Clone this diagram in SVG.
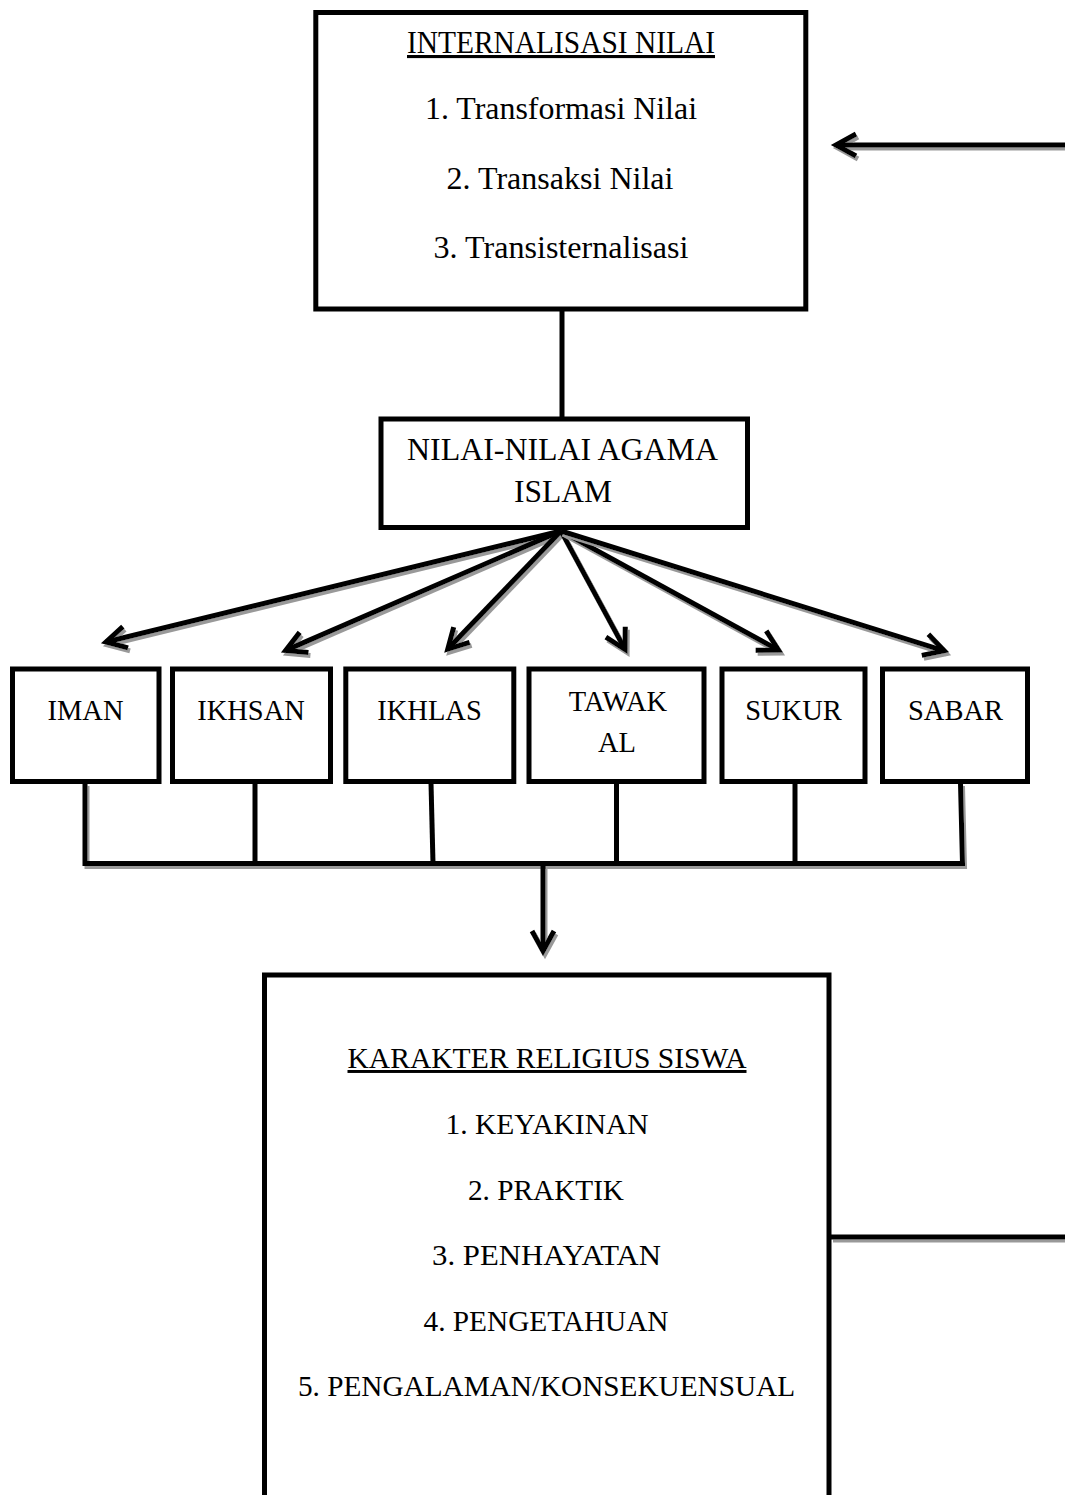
<svg xmlns="http://www.w3.org/2000/svg" width="1065" height="1495" viewBox="0 0 1065 1495">
<style>
.box{fill:#fff;stroke:#000;stroke-width:5}
.t{font-family:"Liberation Serif","Times New Roman",serif;fill:#000;text-anchor:middle}
.big{font-size:31px}
.mid{font-size:28.5px}
.low{font-size:29.5px}
.conn{fill:none;stroke:#000;stroke-width:5}
.sh{filter:url(#sh)}
</style>
<defs>
<filter id="sh" filterUnits="userSpaceOnUse" x="0" y="0" width="1065" height="1495">
<feDropShadow dx="2" dy="3" stdDeviation="0.3" flood-color="#999999" flood-opacity="1"/>
</filter>
<marker id="ah" markerUnits="userSpaceOnUse" orient="auto" viewBox="-30 -20 40 40" markerWidth="40" markerHeight="40" refX="0" refY="0">
<path d="M-20 -11 L0 0 L-20 11" fill="none" stroke="#000" stroke-width="5" stroke-linejoin="miter"/>
</marker>
</defs>
<rect width="1065" height="1495" fill="#fff"/>

<g id="connectors">
<line class="conn" x1="562" y1="311" x2="562" y2="419"/>
<path class="conn sh" d="M1065 145 H836" marker-end="url(#ah)"/>
<path class="conn sh" d="M561 531 L106 642" marker-end="url(#ah)"/>
<path class="conn sh" d="M561 531 L285.7 650.4" marker-end="url(#ah)"/>
<path class="conn sh" d="M561 531 L447.8 649.1" marker-end="url(#ah)"/>
<path class="conn sh" d="M561 531 L625.1 649.5" marker-end="url(#ah)"/>
<path class="conn sh" d="M561 531 L778.5 650.1" marker-end="url(#ah)"/>
<path class="conn sh" d="M561 531 L944.2 650.8" marker-end="url(#ah)"/>
<path class="conn sh" d="M85 783 V863.5 H962.5 L960.5 783" stroke-width="4.5"/>
<line class="conn" x1="255" y1="783" x2="255" y2="863.5" stroke-width="4.5"/>
<line class="conn" x1="431" y1="783" x2="433" y2="863.5" stroke-width="4.5"/>
<line class="conn" x1="616.5" y1="783" x2="616.5" y2="863.5" stroke-width="4.5"/>
<line class="conn" x1="795" y1="783" x2="795" y2="863.5" stroke-width="4.5"/>
<path class="conn sh" d="M543 866 V951" stroke-width="4" marker-end="url(#ah)"/>
<path class="conn sh" d="M831 1237 H1065"/>
</g>

<g id="internalisasi">
<rect class="box" x="315.8" y="12.5" width="490" height="296.5"/>
<text class="t big" x="561" y="53" text-decoration="underline" textLength="308" lengthAdjust="spacingAndGlyphs">INTERNALISASI NILAI</text>
<text class="t big" x="561" y="119" textLength="272" lengthAdjust="spacingAndGlyphs">1. Transformasi Nilai</text>
<text class="t big" x="560" y="189" textLength="227" lengthAdjust="spacingAndGlyphs">2. Transaksi Nilai</text>
<text class="t big" x="561" y="258" textLength="255" lengthAdjust="spacingAndGlyphs">3. Transisternalisasi</text>
</g>

<g id="nilai-agama">
<rect class="box" x="381" y="419" width="366.5" height="108.5"/>
<text class="t big" x="562.5" y="460" textLength="311" lengthAdjust="spacingAndGlyphs">NILAI-NILAI AGAMA</text>
<text class="t big" x="563" y="502" textLength="98" lengthAdjust="spacingAndGlyphs">ISLAM</text>
</g>

<g id="iman">
<rect class="box" x="12.5" y="669" width="146.5" height="112.5"/>
<text class="t mid" x="85.5" y="720">IMAN</text>
</g>
<g id="ikhsan">
<rect class="box" x="172.5" y="669" width="158" height="112.5"/>
<text class="t mid" x="251" y="720">IKHSAN</text>
</g>
<g id="ikhlas">
<rect class="box" x="345.8" y="669" width="168" height="112.5"/>
<text class="t mid" x="429.5" y="720">IKHLAS</text>
</g>
<g id="tawakal">
<rect class="box" x="529" y="669" width="175" height="112.5"/>
<text class="t mid" x="618" y="711">TAWAK</text>
<text class="t mid" x="617" y="752">AL</text>
</g>
<g id="sukur">
<rect class="box" x="722" y="669" width="143" height="112.5"/>
<text class="t mid" x="793.5" y="720">SUKUR</text>
</g>
<g id="sabar">
<rect class="box" x="882.5" y="669" width="145" height="112.5"/>
<text class="t mid" x="955.5" y="720">SABAR</text>
</g>

<g id="karakter">
<rect class="box" x="264.5" y="975" width="564.5" height="560"/>
<text class="t low" x="547" y="1068" text-decoration="underline" textLength="399" lengthAdjust="spacingAndGlyphs">KARAKTER RELIGIUS SISWA</text>
<text class="t low" x="547" y="1134" textLength="203" lengthAdjust="spacingAndGlyphs">1. KEYAKINAN</text>
<text class="t low" x="546" y="1200" textLength="156" lengthAdjust="spacingAndGlyphs">2. PRAKTIK</text>
<text class="t low" x="546.5" y="1265" textLength="229" lengthAdjust="spacingAndGlyphs">3. PENHAYATAN</text>
<text class="t low" x="546" y="1331" textLength="245" lengthAdjust="spacingAndGlyphs">4. PENGETAHUAN</text>
<text class="t low" x="546.5" y="1396" textLength="497" lengthAdjust="spacingAndGlyphs">5. PENGALAMAN/KONSEKUENSUAL</text>
</g>
</svg>
